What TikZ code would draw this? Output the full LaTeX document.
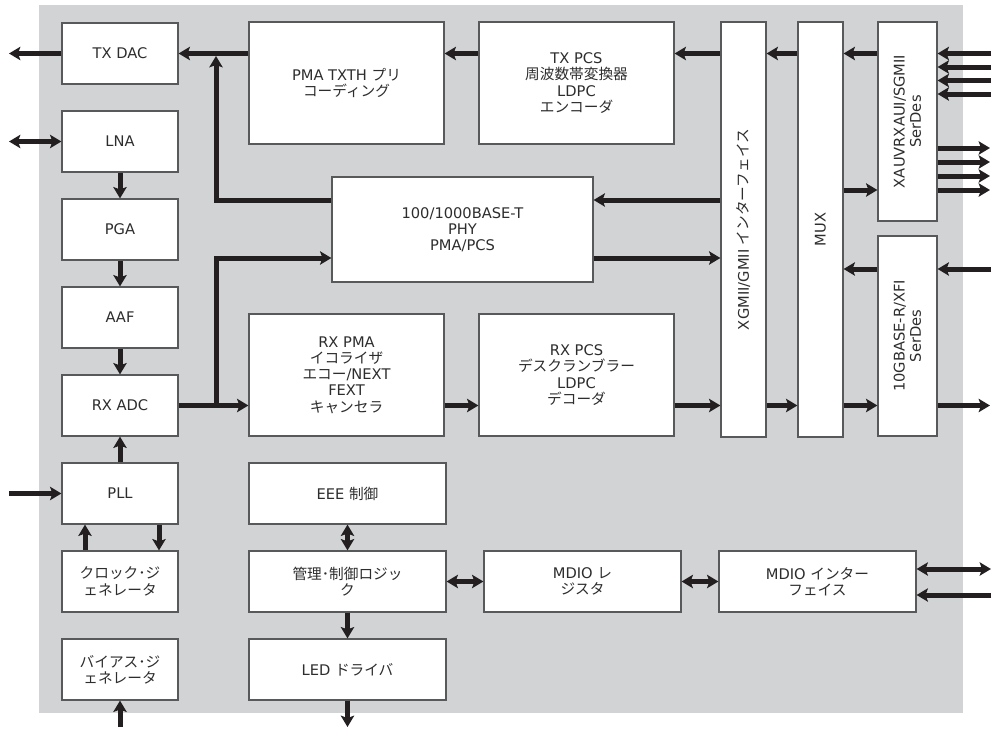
\documentclass[tikz,border=0pt]{standalone}
\usepackage{fontspec}
\setmainfont{DejaVu Sans}
\newfontfamily\jpfont{Noto Sans CJK JP}
\newcommand{\jp}[1]{{\jpfont #1}}
\usetikzlibrary{arrows.meta,positioning}
\definecolor{panel}{RGB}{209,211,212}
\definecolor{ink}{RGB}{35,31,32}
\definecolor{rim}{RGB}{88,89,91}
\definecolor{label}{RGB}{45,45,45}
\tikzset{
  >={Stealth[length=8.5pt,width=10pt,inset=1.8pt]},
  block/.style={draw=rim,line width=0.9pt,fill=white,inner sep=0pt,align=center,
    text=label,font=\fontsize{11}{12.2}\selectfont},
  small/.style={block,minimum width=87pt,minimum height=45.75pt},
  wide/.style={block,minimum width=147.75pt,minimum height=45.75pt},
  big/.style={block,minimum width=146.25pt,minimum height=91.5pt},
  bar/.style={block,minimum width=#1,minimum height=311.25pt},
  bar/.default=33.75pt,
  vtext/.style={rotate=90,align=center,text=label,font=\fontsize{11}{12.2}\selectfont},
  flow/.style={->,line width=3.75pt,draw=ink},
  biflow/.style={<->,line width=3.75pt,draw=ink},
}

\begin{document}
\begin{tikzpicture}[x=0.75pt,y=-0.75pt]
  \useasboundingbox (0,0) rectangle (997,729);
  \fill[panel] (39,5) rectangle (963,713);

  % analog column
  \node[small] (txdac) at (120,53.5) {TX DAC};
  \node[small] (lna) at (120,141.5) {LNA};
  \node[small] (pga) at (120,229.5) {PGA};
  \node[small] (aaf) at (120,317.5) {AAF};
  \node[small] (rxadc) at (120,405.5) {RX ADC};
  \node[small] (pll) at (120,493.5) {PLL};
  \node[small] (clkgen) at (120,581.5) {\jp{クロック･ジ}\\\jp{ェネレータ}};
  \node[small] (biasgen) at (120,669.5) {\jp{バイアス･ジ}\\\jp{ェネレータ}};

  % digital blocks
  \node[big] (pmatx) at (346.5,83) {PMA TXTH \jp{プリ}\\\jp{コーディング}};
  \node[big] (txpcs) at (576.5,83) {TX PCS\\\jp{周波数帯変換器}\\LDPC\\\jp{エンコーダ}};
  \node[block,minimum width=195.75pt,minimum height=78.75pt] (phy) at (462.5,229.5)
    {100/1000BASE-T\\PHY\\PMA/PCS};
  \node[big] (rxpma) at (346.5,375) {RX PMA\\\jp{イコライザ}\\\jp{エコー}/NEXT\\FEXT\\\jp{キャンセラ}};
  \node[big] (rxpcs) at (576.5,375) {RX PCS\\\jp{デスクランブラー}\\LDPC\\\jp{デコーダ}};

  \node[bar,label={[vtext]center:XGMII/GMII \jp{インターフェイス}}] (xgmii) at (743.5,229.5) {};
  \node[bar,label={[vtext]center:MUX}] (mux) at (820.5,229.5) {};
  \node[block,minimum width=44.25pt,minimum height=149.25pt,
    label={[vtext]center:XAUVRXAUI/SGMII\\SerDes}] (xaui) at (907.5,121.5) {};
  \node[block,minimum width=44.25pt,minimum height=150pt,
    label={[vtext]center:10GBASE-R/XFI\\SerDes}] (xfi) at (907.5,336) {};

  % management
  \node[wide] (eee) at (347.5,493.5) {EEE \jp{制御}};
  \node[wide] (mgmt) at (347.5,581.5) {\jp{管理･制御ロジッ}\\\jp{ク}};
  \node[wide] (led) at (347.5,669.5) {LED \jp{ドライバ}};
  \node[wide] (mdioreg) at (582.5,581.5) {MDIO \jp{レ}\\\jp{ジスタ}};
  \node[wide] (mdioif) at (817.5,581.5) {MDIO \jp{インター}\\\jp{フェイス}};

  % free ends and taps
  \coordinate (txout) at (9,53.5);
  \coordinate (lnaio) at (9,141.5);
  \coordinate (pllin) at (9,493.5);
  \coordinate (biasin) at (120,727);
  \coordinate (ledout) at (347.5,727);
  \coordinate (txtap) at (216,56);
  \coordinate (rxtap) at (216,405.5);
  \coordinate (phyup) at (216,200);
  \coordinate (phylow) at (216,258);
  \coordinate (xfiin) at (991,269);
  \coordinate (rxout) at (990,405.5);
  \coordinate (mdioio) at (991,569);
  \coordinate (mdioin) at (991,595);

  % analog chain
  \draw[flow] (txdac.west) -- (txout);
  \draw[biflow] (lnaio) -- (lna.west);
  \foreach \a/\b in {lna/pga,pga/aaf,aaf/rxadc,pll/rxadc}
    \draw[flow] (\a) -- (\b);
  \draw[flow] (pllin) -- (pll.west);
  \draw[flow] ([xshift=-26.25pt]clkgen.north) -- ([xshift=-26.25pt]pll.south);
  \draw[flow] ([xshift=29.25pt]pll.south) -- ([xshift=29.25pt]clkgen.north);
  \draw[flow] (biasin) -- (biasgen.south);

  % transmit path
  \foreach \a/\b in {xaui/mux,mux/xgmii,xgmii/txpcs,txpcs/pmatx,pmatx/txdac}
    \draw[flow] (\a.west |- txdac.east) -- (\b.east |- txdac.east);
  \draw[flow] (phy.west |- phyup) -| (txtap);
  \draw[flow] (xgmii.west |- phyup) -- (phy.east |- phyup);

  % receive path
  \foreach \a/\b in {rxadc/rxpma,rxpma/rxpcs,rxpcs/xgmii,xgmii/mux,mux/xfi}
    \draw[flow] (\a.east |- rxadc.east) -- (\b.west |- rxadc.east);
  \draw[flow] (rxtap) |- (phy.west |- phylow);
  \draw[flow] (phy.east |- phylow) -- (xgmii.west |- phylow);
  \draw[flow] (xfi.east |- rxout) -- (rxout);
  \draw[flow] (xfiin) -- (xfi.east |- xfiin);
  \draw[flow] (xfi.west |- xfiin) -- (mux.east |- xfiin);

  % serdes lanes
  \foreach \y [count=\i] in {53.5,67,80.5,94} {
    \coordinate (xin\i) at (991,\y);
    \draw[flow] (xin\i) -- (xaui.east |- xin\i);
  }
  \foreach \y [count=\i] in {148,162,176,190} {
    \coordinate (xout\i) at (990,\y);
    \draw[flow] (xaui.east |- xout\i) -- (xout\i);
  }
  \draw[flow] (mux.east |- xout4) -- (xaui.west |- xout4);

  % management links
  \draw[biflow] (eee) -- (mgmt);
  \draw[flow] (mgmt) -- (led);
  \draw[flow] (led) -- (ledout);
  \draw[biflow] (mgmt) -- (mdioreg);
  \draw[biflow] (mdioreg) -- (mdioif);
  \draw[biflow] (mdioif.east |- mdioio) -- (mdioio);
  \draw[flow] (mdioin) -- (mdioif.east |- mdioin);
\end{tikzpicture}
\end{document}
